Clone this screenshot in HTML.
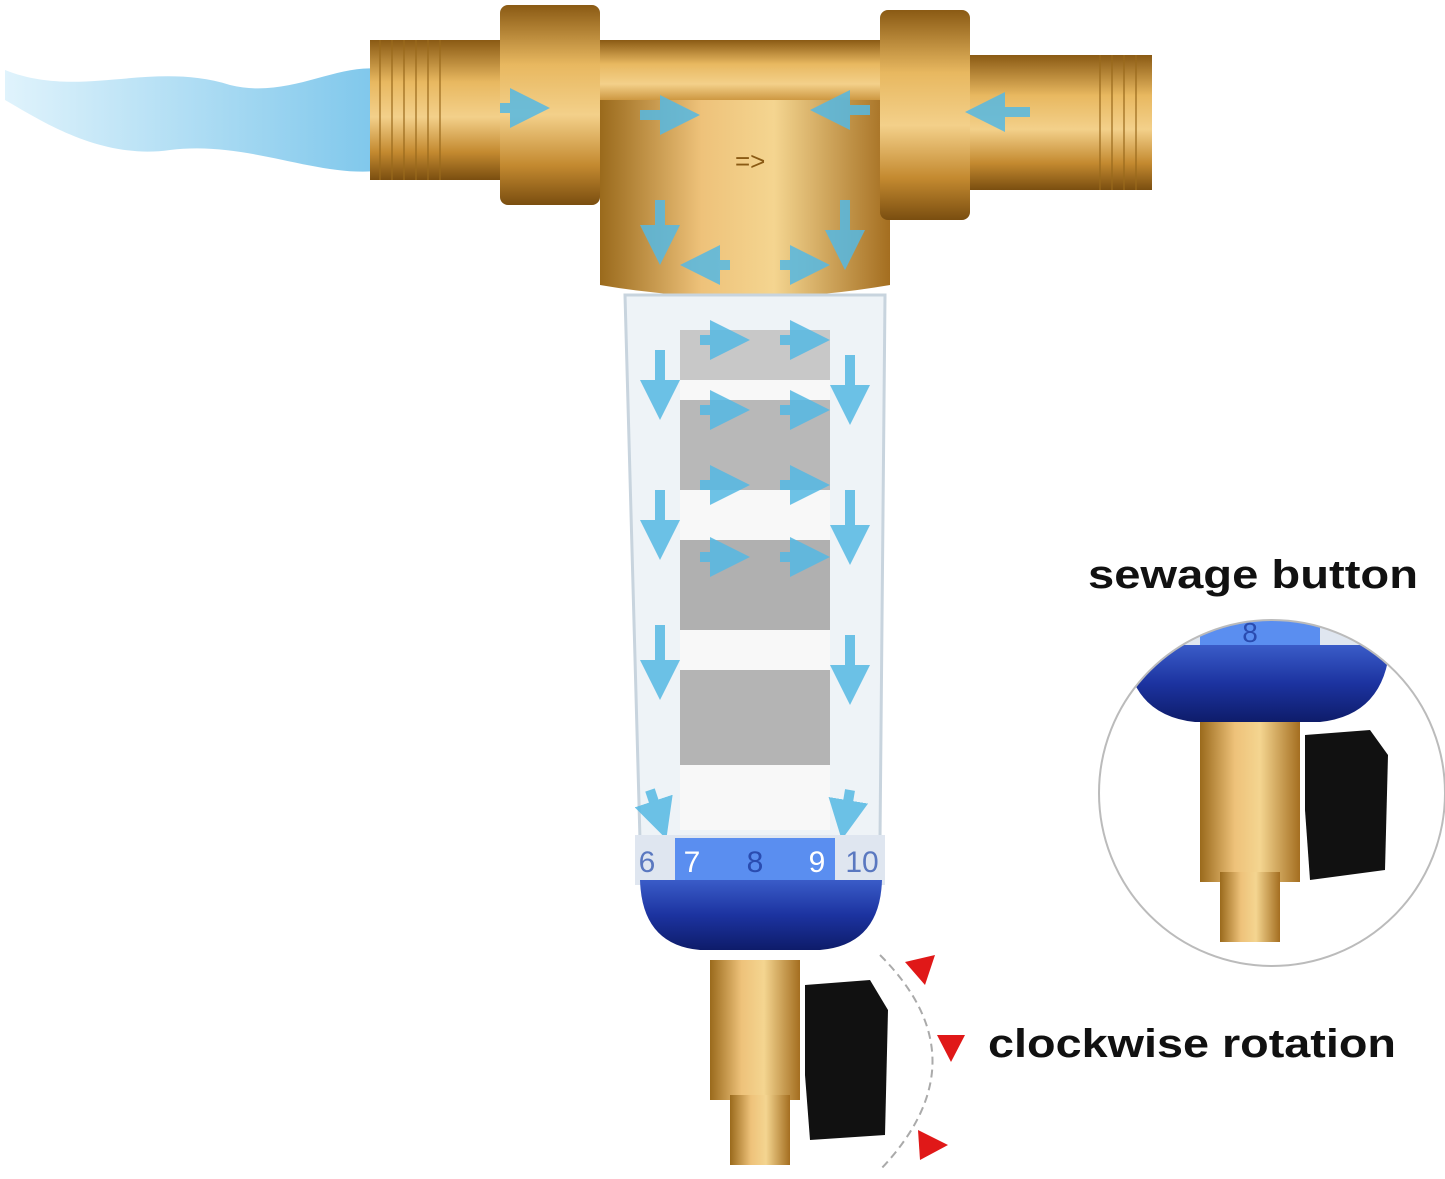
<!DOCTYPE html>
<html><head><meta charset="utf-8"><style>
html,body{margin:0;padding:0;background:#fff;width:1445px;height:1179px;overflow:hidden}
</style></head><body>
<svg width="1445" height="1179" viewBox="0 0 1445 1179" xmlns="http://www.w3.org/2000/svg">
<defs>
<linearGradient id="brass" x1="0" y1="0" x2="0" y2="1">
<stop offset="0" stop-color="#8a5a14"/><stop offset="0.3" stop-color="#e8b860"/><stop offset="0.55" stop-color="#f3d08a"/><stop offset="0.8" stop-color="#c48a30"/><stop offset="1" stop-color="#7a4e10"/></linearGradient>
<linearGradient id="brassH" x1="0" y1="0" x2="1" y2="0">
<stop offset="0" stop-color="#9a6a1c"/><stop offset="0.35" stop-color="#eec27a"/><stop offset="0.6" stop-color="#f4d590"/><stop offset="1" stop-color="#a46e20"/></linearGradient>
<linearGradient id="blue" x1="0" y1="0" x2="0" y2="1">
<stop offset="0" stop-color="#3a5cc8"/><stop offset="0.5" stop-color="#1c33a0"/><stop offset="1" stop-color="#0e1c6a"/></linearGradient>
<linearGradient id="water" x1="0" y1="0" x2="1" y2="0">
<stop offset="0" stop-color="#d8f0fb"/><stop offset="1" stop-color="#5cb8e6"/></linearGradient>
<marker id="ah" markerWidth="4" markerHeight="4" refX="2" refY="2" orient="auto"><path d="M0,0 L4,2 L0,4z" fill="#55b9e4"/></marker>
</defs>
<!-- water -->
<path d="M5,70 C80,100 150,60 230,85 C290,100 340,60 385,70 L385,170 C320,180 250,140 170,150 C100,160 40,120 5,100 Z" fill="url(#water)" opacity="0.8"/>
<!-- left thread -->
<rect x="370" y="40" width="135" height="140" fill="url(#brass)"/>
<g stroke="#9a6a1c" stroke-width="2" opacity="0.6">
<line x1="380" y1="40" x2="380" y2="180"/><line x1="392" y1="40" x2="392" y2="180"/><line x1="404" y1="40" x2="404" y2="180"/><line x1="416" y1="40" x2="416" y2="180"/><line x1="428" y1="40" x2="428" y2="180"/><line x1="440" y1="40" x2="440" y2="180"/>
</g>
<!-- right thread -->
<rect x="960" y="55" width="192" height="135" fill="url(#brass)"/>
<g stroke="#9a6a1c" stroke-width="2" opacity="0.6">
<line x1="1100" y1="55" x2="1100" y2="190"/><line x1="1112" y1="55" x2="1112" y2="190"/><line x1="1124" y1="55" x2="1124" y2="190"/><line x1="1136" y1="55" x2="1136" y2="190"/>
</g>
<!-- body -->
<rect x="590" y="40" width="300" height="80" fill="url(#brass)"/>
<path d="M600,100 L890,100 L890,285 Q745,310 600,285 Z" fill="url(#brassH)"/>
<!-- nuts -->
<rect x="500" y="5" width="100" height="200" rx="8" fill="url(#brass)"/>
<rect x="880" y="10" width="90" height="210" rx="8" fill="url(#brass)"/>
<text x="735" y="170" font-family="Liberation Sans,sans-serif" font-size="26" fill="#8a5a14">=&gt;</text>
<!-- bowl -->
<path d="M625,295 L885,295 L880,840 L640,840 Z" fill="#eef3f7" stroke="#c8d4de" stroke-width="3"/>
<rect x="680" y="330" width="150" height="500" fill="#f8f8f8"/>
<rect x="680" y="400" width="150" height="90" fill="#b8b8b8"/>
<rect x="680" y="540" width="150" height="90" fill="#b0b0b0"/>
<rect x="680" y="670" width="150" height="95" fill="#b4b4b4"/>
<rect x="680" y="330" width="150" height="50" fill="#c8c8c8"/>
<!-- arrows -->
<g stroke="#55b9e4" stroke-width="10" marker-end="url(#ah)" opacity="0.85">
<line x1="500" y1="108" x2="530" y2="108"/><line x1="640" y1="115" x2="680" y2="115"/>
<line x1="870" y1="110" x2="830" y2="110"/><line x1="1030" y1="112" x2="985" y2="112"/>
<line x1="660" y1="200" x2="660" y2="245"/><line x1="845" y1="200" x2="845" y2="250"/>
<line x1="660" y1="350" x2="660" y2="400"/><line x1="850" y1="355" x2="850" y2="405"/>
<line x1="660" y1="490" x2="660" y2="540"/><line x1="850" y1="490" x2="850" y2="545"/>
<line x1="660" y1="625" x2="660" y2="680"/><line x1="850" y1="635" x2="850" y2="685"/>
<line x1="650" y1="790" x2="660" y2="820"/><line x1="850" y1="790" x2="845" y2="820"/>
<line x1="700" y1="340" x2="730" y2="340"/><line x1="780" y1="340" x2="810" y2="340"/>
<line x1="700" y1="410" x2="730" y2="410"/><line x1="780" y1="410" x2="810" y2="410"/>
<line x1="700" y1="485" x2="730" y2="485"/><line x1="780" y1="485" x2="810" y2="485"/>
<line x1="700" y1="557" x2="730" y2="557"/><line x1="780" y1="557" x2="810" y2="557"/>
<line x1="730" y1="265" x2="700" y2="265"/><line x1="780" y1="265" x2="810" y2="265"/>
</g>
<!-- dial -->
<rect x="635" y="835" width="250" height="50" fill="#dfe6f0"/>
<rect x="675" y="838" width="160" height="46" fill="#5a8ef0"/>
<g font-family="Liberation Sans,sans-serif" font-size="30" fill="#fff" text-anchor="middle">
<text x="647" y="872" fill="#5a78c0">6</text><text x="692" y="872">7</text><text x="755" y="872" fill="#2a4cb0">8</text><text x="817" y="872">9</text><text x="862" y="872" fill="#5a78c0">10</text></g>
<!-- blue cap -->
<path d="M640,880 L882,880 Q880,945 820,950 L700,950 Q642,945 640,880 Z" fill="url(#blue)"/>
<!-- valve -->
<rect x="710" y="960" width="90" height="140" fill="url(#brassH)"/>
<rect x="730" y="1095" width="60" height="70" fill="url(#brassH)"/>
<path d="M805,985 L870,980 L888,1010 L885,1135 L810,1140 L805,1075 Z" fill="#111"/>
<!-- red dashed arc -->
<path d="M880,955 Q985,1060 880,1170" fill="none" stroke="#aaa" stroke-width="2" stroke-dasharray="8 5"/>
<path d="M905,962 L935,955 L925,985 Z" fill="#e01818"/>
<path d="M937,1035 L965,1035 L951,1062 Z" fill="#e01818"/>
<path d="M918,1130 L948,1145 L920,1160 Z" fill="#e01818"/>
<!-- circle detail -->
<clipPath id="cc"><circle cx="1272" cy="793" r="173"/></clipPath>
<g clip-path="url(#cc)">
<rect x="1100" y="610" width="350" height="40" fill="#dfe6f0"/>
<rect x="1200" y="612" width="120" height="36" fill="#5a8ef0"/>
<text x="1250" y="642" font-family="Liberation Sans,sans-serif" font-size="28" fill="#2a4cb0" text-anchor="middle">8</text>
<path d="M1125,645 L1390,645 Q1385,715 1320,722 L1195,722 Q1130,715 1125,645 Z" fill="url(#blue)"/>
<rect x="1200" y="722" width="100" height="160" fill="url(#brassH)"/>
<rect x="1220" y="872" width="60" height="70" fill="url(#brassH)"/>
<path d="M1305,735 L1370,730 L1388,755 L1385,870 L1310,880 L1305,810 Z" fill="#111"/>
</g>
<circle cx="1272" cy="793" r="173" fill="none" stroke="#bbb" stroke-width="2"/>
<!-- labels -->
<text x="1088" y="588" font-family="Liberation Sans,sans-serif" font-weight="bold" font-size="40" fill="#111" textLength="330" lengthAdjust="spacingAndGlyphs">sewage button</text>
<text x="988" y="1057" font-family="Liberation Sans,sans-serif" font-weight="bold" font-size="40" fill="#111" textLength="408" lengthAdjust="spacingAndGlyphs">clockwise rotation</text>
</svg>
</body></html>
